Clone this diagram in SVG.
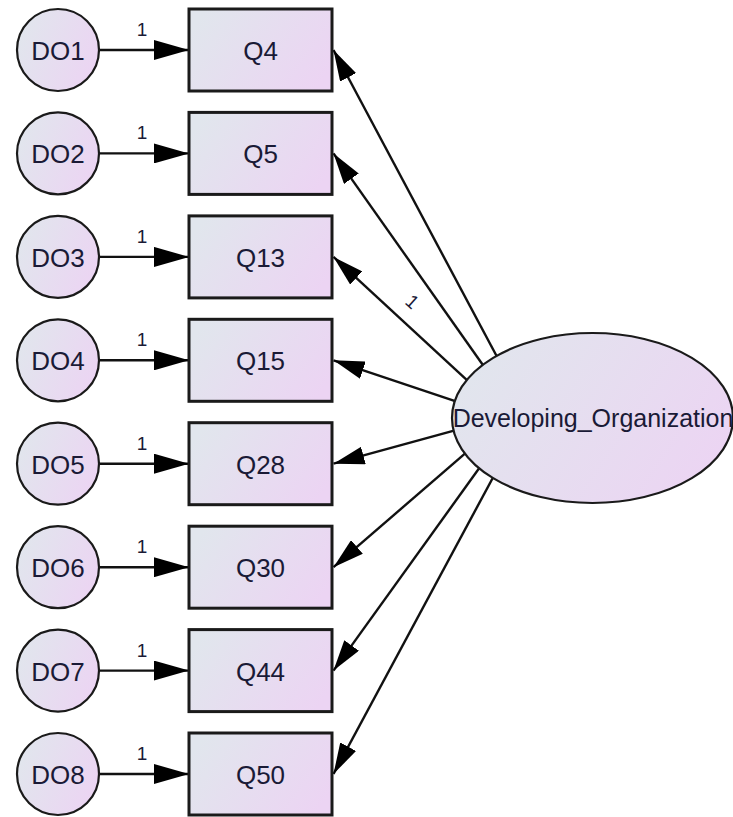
<svg xmlns="http://www.w3.org/2000/svg" width="733" height="817" viewBox="0 0 733 817">
  <defs>
    <linearGradient id="fill" x1="0" y1="0.3" x2="1" y2="0.7">
      <stop offset="0" stop-color="#e1e6ed"/>
      <stop offset="1" stop-color="#ecd4f3"/>
    </linearGradient>
    <marker id="headErr" viewBox="0 0 35 20" refX="35" refY="10" markerWidth="35" markerHeight="20" markerUnits="userSpaceOnUse" orient="auto">
      <path d="M0,0 L35,10 L0,20 z" fill="#000"/>
    </marker>
    <marker id="headLoad" viewBox="0 0 31 18" refX="31" refY="9" markerWidth="31" markerHeight="18" markerUnits="userSpaceOnUse" orient="auto">
      <path d="M0,0 L31,9 L0,18 z" fill="#000"/>
    </marker>
  </defs>
  <style>
    .box { fill: url(#fill); stroke: #1a1a1a; stroke-width: 3; }
    .err { fill: url(#fill); stroke: #1a1a1a; stroke-width: 2.2; }
    .lat { fill: url(#fill); stroke: #1a1a1a; stroke-width: 2.2; }
    .lbl { font-family: "Liberation Sans", Arial, sans-serif; font-size: 26px; fill: #1a1a36; text-anchor: middle; }
    .big { font-family: "Liberation Sans", Arial, sans-serif; font-size: 25px; fill: #1a1a36; text-anchor: middle; }
    .w { font-family: "Liberation Sans", Arial, sans-serif; font-size: 19px; fill: #1a1a36; text-anchor: middle; }
    .e { stroke: #111; stroke-width: 2.4; fill: none; marker-end: url(#headErr); }
    .l { stroke: #111; stroke-width: 2.4; fill: none; marker-end: url(#headLoad); }
  </style>

  <!-- paths: error terms to indicators, factor to indicators -->
  <g id="connectors">
    <line class="e" x1="99" y1="50" x2="189" y2="50"/>
    <line class="e" x1="99" y1="153.4" x2="189" y2="153.4"/>
    <line class="e" x1="99" y1="256.9" x2="189" y2="256.9"/>
    <line class="e" x1="99" y1="360.3" x2="189" y2="360.3"/>
    <line class="e" x1="99" y1="463.7" x2="189" y2="463.7"/>
    <line class="e" x1="99" y1="567.2" x2="189" y2="567.2"/>
    <line class="e" x1="99" y1="670.6" x2="189" y2="670.6"/>
    <line class="e" x1="99" y1="774" x2="189" y2="774"/>

    <line class="l" x1="497.8" y1="358.3" x2="333.5" y2="50"/>
    <line class="l" x1="485.2" y1="368.2" x2="333.5" y2="153.4"/>
    <line class="l" x1="469.4" y1="382.4" x2="333.5" y2="256.9"/>
    <line class="l" x1="457.4" y1="401.9" x2="333.5" y2="360.3"/>
    <line class="l" x1="455.8" y1="430.1" x2="333.5" y2="463.7"/>
    <line class="l" x1="467.8" y1="451.1" x2="333.5" y2="567.2"/>
    <line class="l" x1="480.2" y1="466.8" x2="333.5" y2="670.6"/>
    <line class="l" x1="494.5" y1="474.7" x2="333.5" y2="774"/>

    <text class="w" x="142" y="36">1</text>
    <text class="w" x="142" y="139.4">1</text>
    <text class="w" x="142" y="242.9">1</text>
    <text class="w" x="142" y="346.3">1</text>
    <text class="w" x="142" y="449.7">1</text>
    <text class="w" x="142" y="553.2">1</text>
    <text class="w" x="142" y="656.6">1</text>
    <text class="w" x="142" y="760">1</text>
    <text class="w" x="412" y="308" font-size="17" transform="rotate(42 412 302)">1</text>
  </g>

  <!-- error terms -->
  <g id="DO1"><circle class="err" cx="58" cy="50" r="41"/><text class="lbl" x="58" y="60">DO1</text></g>
  <g id="DO2"><circle class="err" cx="58" cy="153.4" r="41"/><text class="lbl" x="58" y="163.4">DO2</text></g>
  <g id="DO3"><circle class="err" cx="58" cy="256.9" r="41"/><text class="lbl" x="58" y="266.9">DO3</text></g>
  <g id="DO4"><circle class="err" cx="58" cy="360.3" r="41"/><text class="lbl" x="58" y="370.3">DO4</text></g>
  <g id="DO5"><circle class="err" cx="58" cy="463.7" r="41"/><text class="lbl" x="58" y="473.7">DO5</text></g>
  <g id="DO6"><circle class="err" cx="58" cy="567.2" r="41"/><text class="lbl" x="58" y="577.2">DO6</text></g>
  <g id="DO7"><circle class="err" cx="58" cy="670.6" r="41"/><text class="lbl" x="58" y="680.6">DO7</text></g>
  <g id="DO8"><circle class="err" cx="58" cy="774" r="41"/><text class="lbl" x="58" y="784">DO8</text></g>

  <!-- observed indicators -->
  <g id="Q4"><rect class="box" x="189" y="9" width="143" height="82"/><text class="lbl" x="260.5" y="60">Q4</text></g>
  <g id="Q5"><rect class="box" x="189" y="112.4" width="143" height="82"/><text class="lbl" x="260.5" y="163.4">Q5</text></g>
  <g id="Q13"><rect class="box" x="189" y="215.9" width="143" height="82"/><text class="lbl" x="260.5" y="266.9">Q13</text></g>
  <g id="Q15"><rect class="box" x="189" y="319.3" width="143" height="82"/><text class="lbl" x="260.5" y="370.3">Q15</text></g>
  <g id="Q28"><rect class="box" x="189" y="422.7" width="143" height="82"/><text class="lbl" x="260.5" y="473.7">Q28</text></g>
  <g id="Q30"><rect class="box" x="189" y="526.2" width="143" height="82"/><text class="lbl" x="260.5" y="577.2">Q30</text></g>
  <g id="Q44"><rect class="box" x="189" y="629.6" width="143" height="82"/><text class="lbl" x="260.5" y="680.6">Q44</text></g>
  <g id="Q50"><rect class="box" x="189" y="733" width="143" height="82"/><text class="lbl" x="260.5" y="784">Q50</text></g>

  <!-- latent factor -->
  <g id="Developing_Organization">
    <ellipse class="lat" cx="592.5" cy="418" rx="140.5" ry="85"/>
    <text class="big" x="593" y="427">Developing_Organization</text>
  </g>
</svg>
